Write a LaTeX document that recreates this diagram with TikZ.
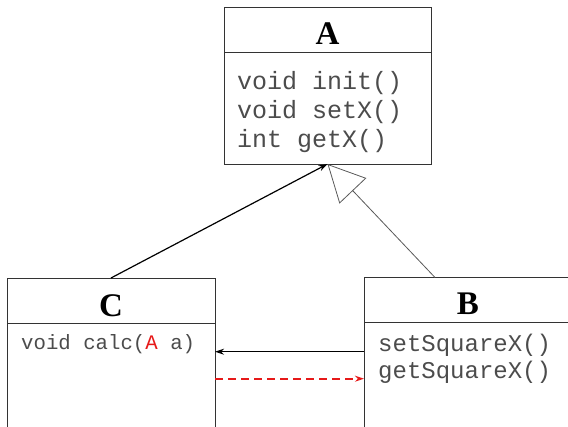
\documentclass[tikz,border=0pt]{standalone}
\usepackage{fontspec}
\setmainfont{Liberation Serif}
\setmonofont{Liberation Mono}
\usetikzlibrary{arrows.meta}
\usetikzlibrary{positioning}
\definecolor{callred}{RGB}{230,25,25}

\begin{document}
\begin{tikzpicture}[x=1pt,y=-1pt,>={Stealth[length=9pt,width=6pt]},
			box/.style={draw=black!80,line width=0.9pt,outer sep=0pt,minimum width=208pt},
			head/.style={box,minimum height=45pt,text depth=0pt,font=\fontsize{33}{33}\selectfont\bfseries},
			body/.style={box,minimum height=#1},
			meth/.style={anchor=west,inner sep=0pt,text=black!70},
			]
			\clip (0,0) rectangle (568,427);

			% class A
			\node[head,minimum width=207pt,text height=31pt] (A) at (327.5,29.5) {A};
			\node[body=112pt,minimum width=207pt,below=0pt of A] (Abody) {};
			\node[meth,font=\fontsize{25}{25}\selectfont\ttfamily] (init) at ([shift={(13,31)}]Abody.north west) {void init()};
			\node[meth,font=\fontsize{25}{25}\selectfont\ttfamily] (setx) at ([shift={(13,60)}]Abody.north west) {void setX()};
			\node[meth,font=\fontsize{25}{25}\selectfont\ttfamily] (getx) at ([shift={(13,89)}]Abody.north west) {int getX()};

			% class C
			\node[head,text height=33pt] (C) at (111,300.5) {C};
			\node[body=130pt,below=0pt of C] (Cbody) {};
			\node[meth,font=\fontsize{20.7}{24}\selectfont\ttfamily] (calc) at ([shift={(14,21)}]Cbody.north west) {void calc(\textcolor{callred}{A} a)};

			% class B
			\node[head,text height=30pt] (B) at (468,300) {B};
			\node[body=130pt,below=0pt of B] (Bbody) {};
			\node[meth,font=\fontsize{24}{24}\selectfont\ttfamily] (setsq) at ([shift={(14,23)}]Bbody.north west) {setSquareX()};
			\node[meth,font=\fontsize{24}{24}\selectfont\ttfamily] (getsq) at ([shift={(14,50)}]Bbody.north west) {getSquareX()};

			\draw[->,line width=1.2pt] (C.north) -- (Abody.south);
			\draw[-{Triangle[open,length=37pt,width=37pt]},draw=black!65,line width=0.8pt]
				([xshift=71pt]B.north west) -- (Abody.south);
			\draw[->,line width=1.2pt] (setsq.base west -| Bbody.west) -- (setsq.base west -| Cbody.east);
			\draw[->,callred,line width=1.6pt,dash pattern=on 8pt off 5pt]
				(getsq.base west -| Cbody.east) -- (getsq.base west -| Bbody.west);
\end{tikzpicture}
\end{document}
